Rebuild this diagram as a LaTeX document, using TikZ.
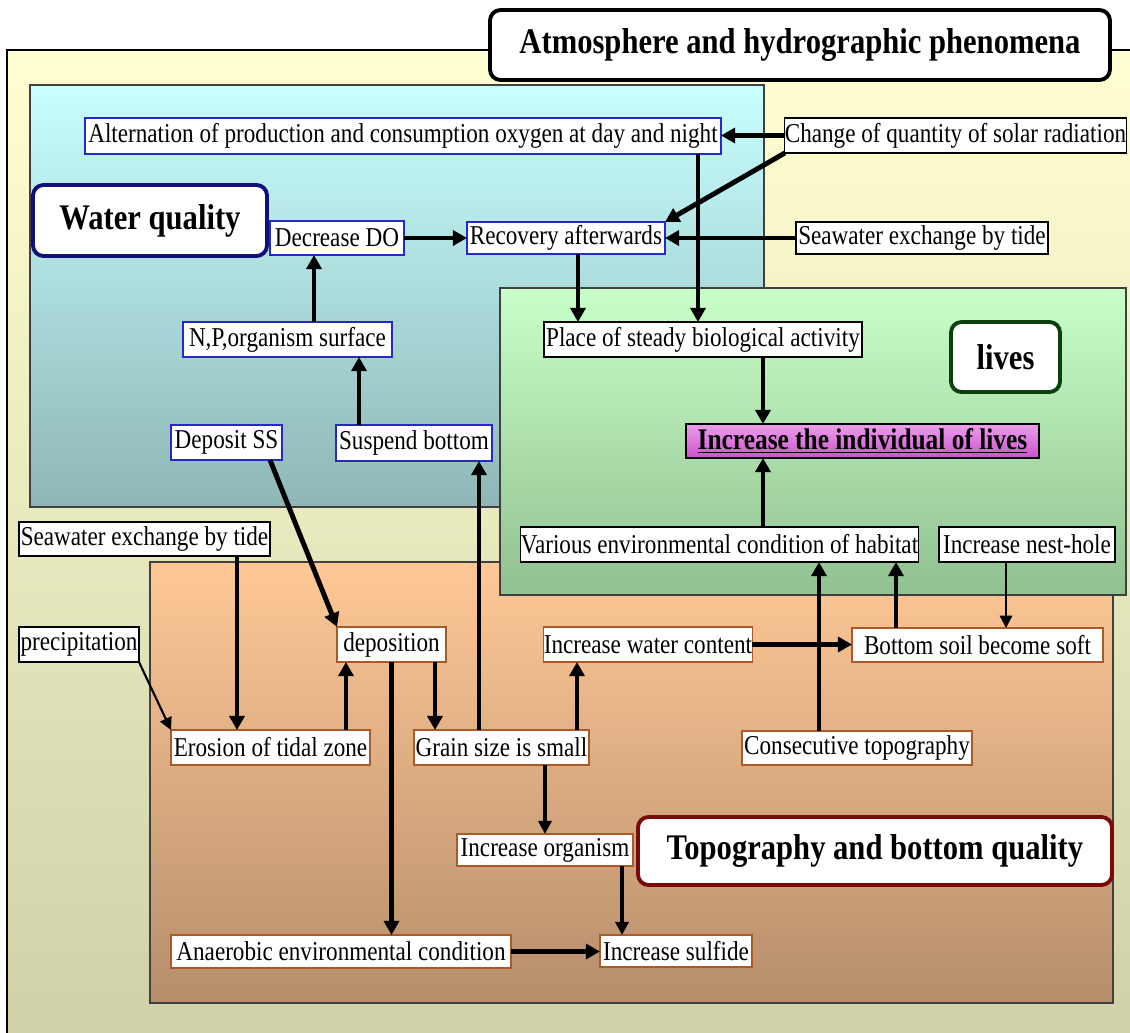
\documentclass[tikz,border=0pt]{standalone}
\usepackage{fontspec}
\setmainfont{Liberation Serif}[FakeStretch=0.85]
\usetikzlibrary{arrows.meta,calc}
\definecolor{outerT}{RGB}{255,255,210}
\definecolor{outerB}{RGB}{208,208,168}
\definecolor{waterT}{RGB}{200,255,255}
\definecolor{waterB}{RGB}{143,182,182}
\definecolor{livesT}{RGB}{200,255,200}
\definecolor{livesB}{RGB}{145,192,145}
\definecolor{topoT}{RGB}{255,200,150}
\definecolor{topoB}{RGB}{182,142,108}
\definecolor{wblue}{RGB}{40,40,200}
\definecolor{obrown}{RGB}{170,90,40}
\definecolor{navyc}{RGB}{16,16,120}
\definecolor{dgreen}{RGB}{12,64,12}
\definecolor{dred}{RGB}{122,10,10}
\definecolor{pinkT}{RGB}{233,160,233}
\definecolor{pinkM}{RGB}{252,232,252}
\definecolor{pinkB}{RGB}{208,80,208}
\newcommand\bx[7]{\node[#2, minimum width={(#5-#3)*0.02cm}, minimum height={(#6-#4)*0.02cm}] (#1) at ({(#3+#5)/2},{(#4+#6)/2}) {#7};}
\tikzset{
  tb/.style={draw=black, fill=white, line width=0.6pt, inner sep=0pt, outer sep=0pt, font=\fontsize{15.5}{17}\selectfont},
  wb/.style={tb, draw=wblue},
  ob/.style={tb, draw=obrown},
  lab/.style={fill=white, rounded corners=6pt, line width=2.2pt, inner sep=0pt, outer sep=0pt, font=\fontsize{20.5}{24}\selectfont\bfseries},
  indivbox/.style={draw=black, line width=1.6pt, top color=pinkT, middle color=pinkM, bottom color=pinkB, inner sep=0pt, outer sep=0pt, font=\fontsize{17}{19}\selectfont\bfseries},
  region/.style={draw=black!75, line width=0.6pt},
  arr/.style={line width=2.8pt, -{Triangle[length=8pt,width=8.5pt]}},
  marr/.style={line width=2pt, -{Triangle[length=7.5pt,width=7.5pt]}},
  tarr/.style={line width=1.2pt, -{Triangle[length=7pt,width=7pt]}}
}
\begin{document}
\begin{tikzpicture}[x=0.02cm,y=-0.02cm]
\useasboundingbox (0,0) rectangle (1130,1032);
\clip (0,0) rectangle (1130,1032);
% regions
\shade[top color=outerT, bottom color=outerB] (7,50) rectangle (1140,1045);
\draw[line width=0.7pt] (7,1045) -- (7,50) -- (1140,50);
\shade[top color=waterT, bottom color=waterB] (30,85) rectangle (764,507);
\draw[region] (30,85) rectangle (764,507);
\shade[top color=topoT, bottom color=topoB] (150,562) rectangle (1113,1003);
\draw[region] (150,562) rectangle (1113,1003);
\shade[top color=livesT, bottom color=livesB] (500,288) rectangle (1126,595);
\draw[region] (500,288) rectangle (1126,595);
% label boxes
\bx{title}{lab, draw=black}{490}{10}{1110}{80}{Atmosphere and hydrographic phenomena}
\bx{wq}{lab, draw=navyc}{33}{185}{267}{256}{Water quality}
\bx{lv}{lab, draw=dgreen}{951}{322}{1060}{392}{lives}
\bx{tp}{lab, draw=dred}{638}{817}{1112}{885}{Topography and bottom quality}
% text boxes
\bx{alt}{wb}{85}{118}{721}{154}{Alternation of production and consumption oxygen at day and night}
\bx{ch}{tb}{786}{118}{1125}{153}{Change of quantity of solar radiation}
\bx{do}{wb}{270}{221}{404}{255}{Decrease DO}
\bx{rec}{wb}{467}{222}{665}{254}{Recovery afterwards}
\bx{tideA}{tb}{796}{222}{1048}{254}{Seawater exchange by tide}
\bx{np}{wb}{183}{322}{392}{357}{N,P,organism surface}
\bx{dss}{wb}{171}{425}{282}{460}{Deposit SS}
\bx{sus}{wb}{336}{425}{492}{461}{Suspend bottom}
\bx{place}{tb}{544}{322}{862}{357}{Place of steady biological activity}
\bx{indiv}{indivbox}{686}{424}{1039}{458}{\underline{Increase the individual of lives}}
\bx{var}{tb}{521}{527}{918}{562}{Various environmental condition of habitat}
\bx{nest}{tb}{939}{527}{1115}{562}{Increase nest-hole}
\bx{tideB}{tb}{19}{522}{270}{556}{Seawater exchange by tide}
\bx{prec}{tb}{19}{627}{139}{662}{precipitation}
\bx{dep}{ob}{337}{627}{446}{662}{deposition}
\bx{wc}{ob}{544}{627}{752}{662}{Increase water content}
\bx{soil}{ob}{852}{628}{1103}{662}{Bottom soil become soft}
\bx{ero}{ob}{171}{730}{370}{765}{Erosion of tidal zone}
\bx{grain}{ob}{414}{730}{589}{765}{Grain size is small}
\bx{cons}{ob}{742}{731}{972}{765}{Consecutive topography}
\bx{org}{ob}{457}{834}{633}{866}{Increase organism}
\bx{anaer}{ob}{171}{935}{511}{968}{Anaerobic environmental condition}
\bx{sulf}{ob}{600}{935}{752}{967}{Increase sulfide}
% connectors
\draw[arr] (ch.west) -- (ch.west -| alt.east);
\draw[arr] (ch.south west) -- (rec.north east);
\draw[arr] (tideA.west) -- (tideA.west -| rec.east);
\draw[arr] (do.east) -- (do.east -| rec.west);
\draw[arr] ([xshift=0.53cm]np.north) -- ([xshift=0.53cm]np.north |- do.south);
\draw[arr] ([xshift=-1.1cm]sus.north) -- ([xshift=-1.1cm]sus.north |- np.south);
\draw[arr] ([xshift=-0.24cm]dss.south east) -- (dep.north west);
\draw[arr] ([xshift=-0.1cm]place.north |- alt.south) -- ([xshift=-0.1cm]place.north);
\draw[arr] ([xshift=0.24cm]rec.south) -- ([xshift=0.24cm]rec.south |- place.north);
\draw[arr] ([xshift=1.2cm]place.south) -- ([xshift=1.2cm]place.south |- indiv.north);
\draw[arr] ([xshift=0.87cm]var.north) -- ([xshift=0.87cm]var.north |- indiv.south);
\draw[arr] ([xshift=-1.63cm]soil.north) -- ([xshift=-1.63cm]soil.north |- var.south);
\draw[arr] ([xshift=-0.76cm]cons.north) -- ([xshift=-0.76cm]cons.north |- var.south);
\draw[tarr] ([xshift=-0.42cm]nest.south) -- ([xshift=-0.42cm]nest.south |- soil.north);
\draw[arr] (wc.east) -- (wc.east -| soil.west);
\draw[arr] ([xshift=1.51cm]grain.north) -- ([xshift=1.51cm]grain.north |- wc.south);
\draw[arr] ([xshift=-0.45cm]grain.north) -- ([xshift=-0.45cm]grain.north |- sus.south);
\draw[arr] ([xshift=0.87cm]dep.south) -- ([xshift=0.87cm]dep.south |- grain.north);
\draw[arr] (dep.south) -- (dep.south |- anaer.north);
\draw[arr] ([xshift=1.51cm]ero.north) -- ([xshift=1.51cm]ero.north |- dep.south);
\draw[arr] ([xshift=1.85cm]tideB.south) -- ([xshift=1.85cm]tideB.south |- ero.north);
\draw[tarr] (prec.south east) -- (ero.north west);
\draw[marr] ([xshift=0.87cm]grain.south) -- ([xshift=0.87cm]grain.south |- org.north);
\draw[marr] ([xshift=1.54cm]org.south) -- ([xshift=1.54cm]org.south |- sulf.north);
\draw[arr] (anaer.east) -- (anaer.east -| sulf.west);
\end{tikzpicture}
\end{document}
